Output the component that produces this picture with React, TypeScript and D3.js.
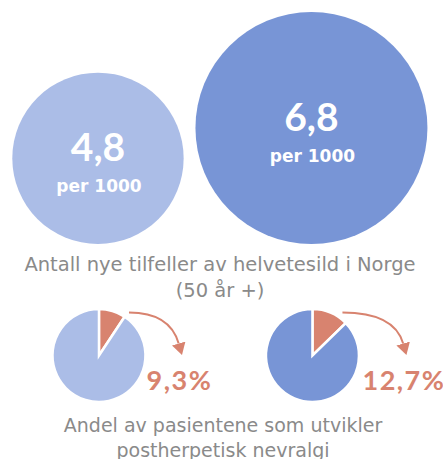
import * as d3 from 'd3';

// two age-50+ cohorts: incidence per 1000 and share developing PHN
const cohorts = ['A', 'B'];
const incidence = [4.8, 6.8];
const phnShare = [9.3, 12.7];
const fills = ['#abbde7', '#7895d6'];
const accent = '#d8836f';
const grey = '#8a8a8a';

const titleLines = ['Antall nye tilfeller av helvetesild i Norge', '(50 år +)'];
const subLines = ['Andel av pasientene som utvikler', 'postherpetisk nevralgi'];

const W = 443;
const H = 459;

export default function App() {
  // bubbles sit on a common baseline, side by side
  const r = d3.scalePow().exponent(0.87).domain([0, d3.max(incidence)!]).range([0, 116]);
  const baseY = 244;
  const left = 12.3;
  const gap = 11.8;
  const bubbles = incidence.map((v, i) => ({ v, r: r(v), i }));
  let x = left;
  bubbles.forEach((b: any) => {
    b.cx = x + b.r;
    b.cy = baseY - b.r;
    x += 2 * b.r + gap;
  });

  const pie = d3.pie<number>().sort(null);
  const arc = d3.arc<any>().innerRadius(0).outerRadius(46.5);
  const pieY = 355.5;
  const reach = [83, 94];

  const fmt = (v: number) => String(v).replace('.', ',');

  return (
    <svg width={W} height={H} style={{ position: 'absolute', left: 0, top: 0 }}>
      <defs>
        <marker id="head" markerUnits="userSpaceOnUse" markerWidth={12} markerHeight={14}
          viewBox="0 0 12 14" refX={0} refY={7} orient="auto">
          <path d="M0,0L12,7L0,14Z" fill={accent} />
        </marker>
      </defs>

      {bubbles.map((b: any) => (
        <g key={cohorts[b.i]}>
          <circle cx={b.cx} cy={b.cy} r={b.r} fill={fills[b.i]} />
          <text x={b.cx} y={b.cy + 3} textAnchor="middle" fill="#fff"
            style={{ font: 'bold 39px Lato' }}>{fmt(b.v)}</text>
          <text x={b.cx + 1} y={b.cy + 34} textAnchor="middle" fill="#fff"
            style={{ font: 'bold 17px "DejaVu Sans"' }}>per 1000</text>
        </g>
      ))}

      {titleLines.map((t, i) => (
        <text key={t} x={220} y={271 + i * 25.8} textAnchor="middle" fill={grey}
          style={{ font: '19.5px "DejaVu Sans"' }}>{t}</text>
      ))}

      {bubbles.map((b: any) => {
        const cx = b.cx + 1;
        const arcs = pie([phnShare[b.i], 100 - phnShare[b.i]]);
        const sx = cx + 30, sy = pieY - 43;
        const tx = cx + reach[b.i], ty = pieY - 0.5;
        const bx = tx - 3.3, by = ty - 11.5;
        const p = d3.path();
        p.moveTo(sx, sy);
        p.quadraticCurveTo(bx - 0.286 * (by - sy), sy, bx, by);
        return (
          <g key={'pie' + cohorts[b.i]}>
            <g transform={`translate(${cx},${pieY})`}>
              {arcs.map((a, j) => (
                <path key={j} d={arc(a)!} fill={j === 0 ? accent : fills[b.i]}
                  stroke="#fff" strokeWidth={2.5} strokeLinejoin="miter" />
              ))}
            </g>
            <path d={p.toString()} fill="none" stroke={accent} strokeWidth={2} markerEnd="url(#head)" />
            <text x={tx - 2.5} y={390} textAnchor="middle" fill={accent}
              style={{ font: 'bold 27px Lato', letterSpacing: '1.5px' }}>{fmt(phnShare[b.i])}%</text>
          </g>
        );
      })}

      {subLines.map((t, i) => (
        <text key={t} x={223} y={432 + i * 24.5} textAnchor="middle" fill={grey}
          style={{ font: '19px "DejaVu Sans"' }}>{t}</text>
      ))}
    </svg>
  );
}
